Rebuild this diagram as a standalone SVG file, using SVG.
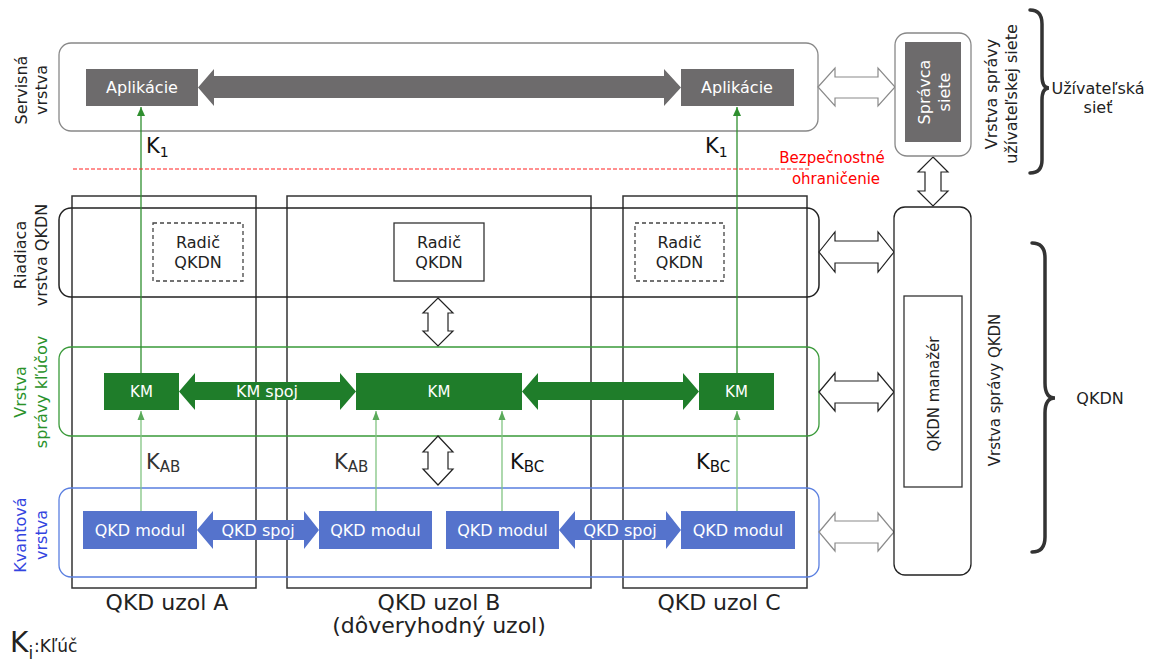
<svg xmlns="http://www.w3.org/2000/svg" width="1154" height="662" viewBox="0 0 1154 662">
<defs>
<style>
text{font-family:"DejaVu Sans",Verdana,sans-serif;fill:#222}
.node{fill:none;stroke:#333;stroke-width:1.5}
.c{text-anchor:middle}
.f16{font-size:16px}
.f15{font-size:15px}
.f22{font-size:22px}
.app{fill:#6d6b6c}
.km{fill:#1f7d2a}
.qkd{fill:#5573cc}
.hol{fill:#fff;stroke:#222;stroke-width:1.2}
.holg{fill:#fff;stroke:#8a8a8a;stroke-width:1.2}
.k1{stroke:#2f8f2f;stroke-width:1.3;fill:none}
.k2{stroke:#82c482;stroke-width:1.3;fill:none}
.brace{fill:none;stroke:#333;stroke-width:3.5;stroke-linecap:round}
.key{font-size:21px;fill:#333}
</style>
<marker id="ah1" markerWidth="10" markerHeight="10" refX="9" refY="5" orient="auto" markerUnits="userSpaceOnUse"><path d="M0,1 L9,5 L0,9 Z" fill="#2f8f2f"/></marker>
<marker id="ah2" markerWidth="10" markerHeight="10" refX="9" refY="5" orient="auto" markerUnits="userSpaceOnUse"><path d="M0,1.5 L9,5 L0,8.5 Z" fill="#5aaa5a"/></marker>
</defs>
<rect width="1154" height="662" fill="#fff"/>

<!-- QKD nodes -->
<g id="nodeA"><rect class="node" x="72" y="196" width="184" height="392"/></g>
<g id="nodeB"><rect class="node" x="287" y="196" width="304" height="392"/></g>
<g id="nodeC"><rect class="node" x="623" y="196" width="184" height="392"/></g>

<!-- Layers -->
<g id="service-layer">
<rect x="59" y="43" width="759" height="88" rx="12" fill="none" stroke="#888" stroke-width="1.3"/>
<text class="f16 c" transform="translate(27,90) rotate(-90)"><tspan x="0" y="0">Servisná</tspan><tspan x="0" y="20">vrstva</tspan></text>
</g>
<g id="control-layer">
<rect x="59" y="208" width="760" height="89" rx="12" fill="none" stroke="#222" stroke-width="1.5"/>
<text class="f16 c" transform="translate(26,255) rotate(-90)"><tspan x="0" y="0">Riadiaca</tspan><tspan x="0" y="21">vrstva QKDN</tspan></text>
</g>
<g id="km-layer">
<rect x="59" y="347" width="760" height="89" rx="12" fill="none" stroke="#3a9a3a" stroke-width="1.3"/>
<text class="f16 c" style="fill:#2a922a" transform="translate(26,392) rotate(-90)"><tspan x="0" y="0">Vrstva</tspan><tspan x="0" y="21">správy kľúčov</tspan></text>
</g>
<g id="quantum-layer">
<rect x="59" y="488" width="760" height="89" rx="12" fill="none" stroke="#5a7fe0" stroke-width="1.3"/>
<text class="f16 c" style="fill:#3344e0" transform="translate(26,535) rotate(-90)"><tspan x="0" y="0">Kvantová</tspan><tspan x="0" y="21">vrstva</tspan></text>
</g>

<!-- Connectors -->
<g id="connectors">
<polygon class="app" points="198,87.5 214,69 214,76 664,76 664,69 681,87.5 664,106 664,98 214,98 214,106"/>
<polygon class="km" points="179,391.5 195,373 195,382 340,382 340,373 356,391.5 340,410 340,400 195,400 195,410"/>
<polygon class="km" points="522,391.5 538,373 538,382 683,382 683,373 699,391.5 683,410 683,400 538,400 538,410"/>
<polygon class="qkd" points="197,530 213,511 213,520 304,520 304,511 319,530 304,549 304,540 213,540 213,549"/>
<polygon class="qkd" points="559,530 575,511 575,520 666,520 666,511 681,530 666,549 666,540 575,540 575,549"/>
<line class="k1" x1="141" y1="373" x2="141" y2="107" marker-end="url(#ah1)"/>
<line class="k1" x1="737" y1="373" x2="737" y2="107" marker-end="url(#ah1)"/>
<line class="k2" x1="141" y1="511" x2="141" y2="411" marker-end="url(#ah2)"/>
<line class="k2" x1="376" y1="511" x2="376" y2="411" marker-end="url(#ah2)"/>
<line class="k2" x1="502" y1="511" x2="502" y2="411" marker-end="url(#ah2)"/>
<line class="k2" x1="737" y1="511" x2="737" y2="411" marker-end="url(#ah2)"/>
<polygon class="holg" points="818,87 835,68 835,77 878,77 878,68 895,87 878,106 878,98 835,98 835,106"/>
<polygon class="hol" points="819,252 835,232 835,241 878,241 878,232 894,252 878,272 878,263 835,263 835,272"/>
<polygon class="hol" points="819,392 835,373 835,381 878,381 878,373 894,392 878,411 878,403 835,403 835,411"/>
<polygon class="holg" points="819,532 835,513 835,521 878,521 878,513 894,532 878,551 878,543 835,543 835,551"/>
<polygon class="hol" points="933,157 948,172 941,172 941,191 948,191 933,206 918,191 925,191 925,172 918,172"/>
<polygon class="hol" points="438,298 453,313 448,313 448,331 453,331 438,346 423,331 428,331 428,313 423,313"/>
<polygon class="hol" points="438,436 453,452 448,452 448,469 453,469 438,485 423,469 428,469 428,452 423,452"/>
<line x1="73" y1="169" x2="810" y2="169" stroke="#ff2020" stroke-width="1" stroke-dasharray="4,2"/>
</g>

<!-- Service layer nodes -->
<g id="app-A"><rect class="app" x="86" y="69" width="112" height="37"/><text class="f16 c" x="142" y="93" style="fill:#fff">Aplikácie</text></g>
<g id="app-C"><rect class="app" x="681" y="69" width="113" height="37"/><text class="f16 c" x="737" y="93" style="fill:#fff">Aplikácie</text></g>

<!-- Controllers -->
<g id="radic-A"><rect x="153" y="223" width="90" height="58" fill="#fff" stroke="#444" stroke-width="1.3" stroke-dasharray="4,3"/><text class="f16 c" x="198" y="248">Radič</text><text class="f16 c" x="198" y="268">QKDN</text></g>
<g id="radic-B"><rect x="394" y="223" width="90" height="58" fill="#fff" stroke="#333" stroke-width="1.3"/><text class="f16 c" x="439" y="248">Radič</text><text class="f16 c" x="439" y="268">QKDN</text></g>
<g id="radic-C"><rect x="635" y="223" width="89" height="58" fill="#fff" stroke="#444" stroke-width="1.3" stroke-dasharray="4,3"/><text class="f16 c" x="679.5" y="248">Radič</text><text class="f16 c" x="679.5" y="268">QKDN</text></g>

<!-- KM -->
<g id="km-A"><rect class="km" x="104" y="373" width="75" height="37"/><text class="f15 c" x="141.5" y="397" style="fill:#fff">KM</text></g>
<g id="km-B"><rect class="km" x="356" y="373" width="166" height="37"/><text class="f15 c" x="439" y="397" style="fill:#fff">KM</text></g>
<g id="km-C"><rect class="km" x="699" y="373" width="75" height="37"/><text class="f15 c" x="736.5" y="397" style="fill:#fff">KM</text></g>
<text class="f16 c" x="267" y="397" style="fill:#fff">KM spoj</text>

<!-- QKD modules -->
<g id="qkd-A"><rect class="qkd" x="83" y="511" width="114" height="38"/><text class="f16 c" x="140" y="536" style="fill:#fff">QKD modul</text></g>
<g id="qkd-B1"><rect class="qkd" x="319" y="511" width="113" height="38"/><text class="f16 c" x="375.5" y="536" style="fill:#fff">QKD modul</text></g>
<g id="qkd-B2"><rect class="qkd" x="446" y="511" width="113" height="38"/><text class="f16 c" x="502.5" y="536" style="fill:#fff">QKD modul</text></g>
<g id="qkd-C"><rect class="qkd" x="681" y="511" width="114" height="38"/><text class="f16 c" x="738" y="536" style="fill:#fff">QKD modul</text></g>
<text class="f16 c" x="258" y="536" style="fill:#fff">QKD spoj</text>
<text class="f16 c" x="620" y="536" style="fill:#fff">QKD spoj</text>

<!-- Key labels -->
<text class="key" x="146" y="153" style="fill:#111">K<tspan font-size="14" dy="4">1</tspan></text>
<text class="key" x="705" y="153" style="fill:#111">K<tspan font-size="14" dy="4">1</tspan></text>
<text class="key" x="146" y="469">K<tspan font-size="15" dy="3">AB</tspan></text>
<text class="key" x="334" y="469">K<tspan font-size="15" dy="3">AB</tspan></text>
<text class="key" x="510" y="469" style="fill:#111">K<tspan font-size="15" dy="3">BC</tspan></text>
<text class="key" x="696" y="469" style="fill:#111">K<tspan font-size="15" dy="3">BC</tspan></text>

<!-- Security boundary -->
<text class="f15 c" x="832" y="163" style="fill:#ff0000">Bezpečnostné</text>
<text class="f15 c" x="836" y="184" style="fill:#ff0000">ohraničenie</text>

<!-- User network management -->
<g id="spravca">
<rect x="895" y="33" width="76" height="123" rx="12" fill="#fff" stroke="#888" stroke-width="1.3"/>
<rect x="905" y="42" width="56" height="100" fill="#6d6b6c"/>
<text class="f16 c" transform="translate(930,92) rotate(-90)" style="fill:#fff"><tspan x="0" y="0">Správca</tspan><tspan x="0" y="20">siete</tspan></text>
</g>
<text class="f16 c" transform="translate(997,94) rotate(-90)"><tspan x="0" y="0">Vrstva správy</tspan><tspan x="0" y="20">užívateľskej siete</tspan></text>
<path class="brace" d="M1030,10 Q1042,10 1042,24 L1042,76 Q1042,88 1049,88 Q1042,88 1042,100 L1042,160 Q1042,173 1030,173"/>
<text class="f16 c" x="1098" y="94">Užívateľská</text>
<text class="f16 c" x="1098" y="113">sieť</text>

<!-- QKDN management -->
<g id="qkdn-mgmt">
<rect x="894" y="207" width="77" height="368" rx="11" fill="#fff" stroke="#222" stroke-width="1.3"/>
<rect x="904" y="296" width="58" height="191" fill="#fff" stroke="#333" stroke-width="1.3"/>
<text class="f15 c" transform="translate(939,394) rotate(-90)">QKDN manažér</text>
</g>
<text class="f15 c" transform="translate(1000,390) rotate(-90)">Vrstva správy QKDN</text>
<path class="brace" d="M1032,243 Q1045,243 1045,258 L1045,383 Q1045,398 1055,398 Q1045,398 1045,413 L1045,537 Q1045,552 1032,552"/>
<text class="f16 c" x="1100" y="404">QKDN</text>

<!-- Bottom labels -->
<text class="f22 c" x="167" y="610">QKD uzol A</text>
<text class="f22 c" x="439" y="610">QKD uzol B</text>
<text class="f22 c" x="439" y="633">(dôveryhodný uzol)</text>
<text class="f22 c" x="719" y="610">QKD uzol C</text>
<text x="10" y="652" font-size="28">K<tspan font-size="17" dy="7">i</tspan></text>
<text x="34" y="652" font-size="17">:Kľúč</text>
</svg>
